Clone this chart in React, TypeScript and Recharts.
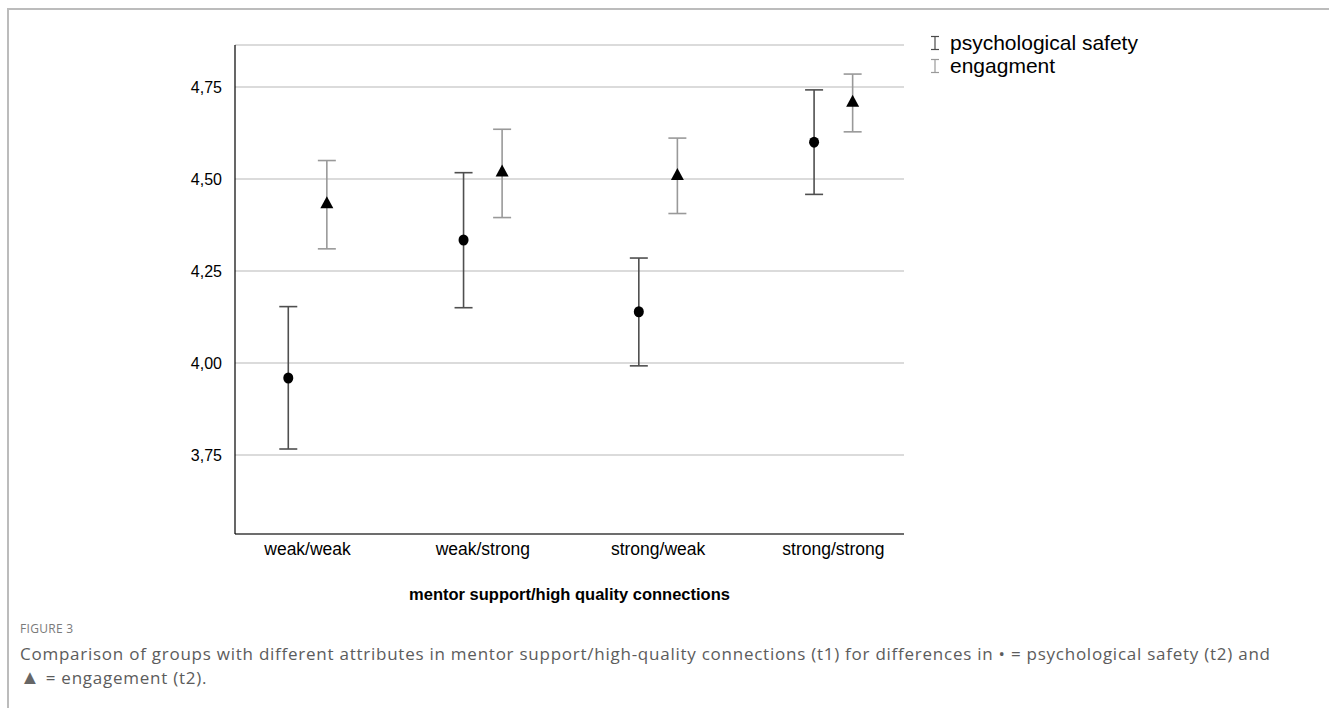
import { ScatterChart, Scatter, XAxis, YAxis, CartesianGrid, ErrorBar } from 'recharts'

const categories = ['weak/weak', 'weak/strong', 'strong/weak', 'strong/strong']

const safetyMean = [3.959, 4.334, 4.139, 4.6]
const safetyLower = [3.766, 4.15, 3.992, 4.458]
const safetyUpper = [4.153, 4.517, 4.285, 4.742]

const engagementMean = [4.434, 4.52, 4.511, 4.71]
const engagementLower = [4.31, 4.395, 4.406, 4.628]
const engagementUpper = [4.55, 4.635, 4.611, 4.785]

const yTicks = [3.75, 4, 4.25, 4.5, 4.75]

// side-by-side dodge within each group
const DODGE = 0.11

const buildRows = (mean: number[], lower: number[], upper: number[], shift: number) =>
  mean.map((m, i) => ({
    x: i + shift,
    y: m,
    err: [m - lower[i], upper[i] - m],
    label: categories[i],
  }))

const safetyRows = buildRows(safetyMean, safetyLower, safetyUpper, -DODGE)
const engagementRows = buildRows(engagementMean, engagementLower, engagementUpper, DODGE)

const FONT = '"Liberation Sans", Arial, sans-serif'

const Dot = (props: any) => {
  const { cx, cy } = props
  return <ellipse cx={cx} cy={cy} rx={5} ry={5.5} fill="#000" />
}

const Tri = (props: any) => {
  const { cx, cy } = props
  return <polygon points={`${cx},${cy - 7} ${cx - 6.5},${cy + 5} ${cx + 6.5},${cy + 5}`} fill="#000" />
}

const legendItems = [
  { label: 'psychological safety', color: '#4a4a4a' },
  { label: 'engagment', color: '#9a9a9a' },
]

const LegendBox = () => (
  <div style={{ fontFamily: FONT, fontSize: 21, color: '#000', lineHeight: '23px' }}>
    {legendItems.map((it) => (
      <div key={it.label} style={{ display: 'flex', alignItems: 'center' }}>
        <svg width={10} height={16} style={{ marginRight: 10 }}>
          <line x1={1} y1={1.5} x2={9} y2={1.5} stroke={it.color} strokeWidth={1.2} />
          <line x1={5} y1={1.5} x2={5} y2={14.5} stroke={it.color} strokeWidth={1.2} />
          <line x1={1} y1={14.5} x2={9} y2={14.5} stroke={it.color} strokeWidth={1.2} />
        </svg>
        <span>{it.label}</span>
      </div>
    ))}
  </div>
)

export default function App() {
  return (
    <div style={{ position: 'absolute', left: 0, top: 0, width: 1329, height: 708, background: '#fff', overflow: 'hidden' }}>
      <div
        style={{
          position: 'absolute',
          left: 7,
          top: 8,
          width: 1400,
          height: 800,
          borderTop: '2px solid #bcbcbc',
          borderLeft: '2px solid #bcbcbc',
        }}
      />
      <div style={{ position: 'absolute', left: 0, top: 0 }}>
        <ScatterChart width={1329} height={708} margin={{ top: 45, right: 425, bottom: 108, left: 175 }}>
          <CartesianGrid vertical={false} stroke="#cfcfcf" strokeWidth={1.5} />
          <XAxis
            type="number"
            dataKey="x"
            domain={[-0.414, 3.403]}
            ticks={[0, 1, 2, 3]}
            tickFormatter={(v: number) => categories[v]}
            allowDataOverflow
            tickLine={false}
            axisLine={{ stroke: '#000', strokeWidth: 1.2 }}
            tick={{ fill: '#000', fontSize: 17.5, fontFamily: FONT }}
            tickMargin={3}
            height={66}
            label={{
              value: 'mentor support/high quality connections',
              position: 'insideBottom',
              offset: 0,
              fill: '#000',
              fontSize: 16.5,
              fontWeight: 'bold',
              fontFamily: FONT,
            }}
          />
          <YAxis
            type="number"
            dataKey="y"
            domain={[3.535, 4.864]}
            ticks={yTicks}
            allowDataOverflow
            tickFormatter={(v: number) => v.toFixed(2).replace('.', ',')}
            tickLine={false}
            axisLine={{ stroke: '#000', strokeWidth: 1.2 }}
            tick={{ fill: '#000', fontSize: 16, fontFamily: FONT }}
            tickMargin={7}
            width={60}
          />
          <Scatter name="psychological safety" data={safetyRows} shape={<Dot />} isAnimationActive={false}>
            <ErrorBar dataKey="err" direction="y" width={9} stroke="#4f4f4f" strokeWidth={1.6} />
          </Scatter>
          <Scatter name="engagment" data={engagementRows} shape={<Tri />} isAnimationActive={false}>
            <ErrorBar dataKey="err" direction="y" width={9} stroke="#999" strokeWidth={1.6} />
          </Scatter>
        </ScatterChart>
      </div>
      <div style={{ position: 'absolute', left: 930, top: 31 }}>
        <LegendBox />
      </div>
      <div
        style={{
          position: 'absolute',
          left: 20,
          top: 620,
          fontFamily: '"Open Sans", "Noto Sans", sans-serif',
          color: '#7a7a7a',
          fontSize: 12,
          letterSpacing: 0.3,
        }}
      >
        FIGURE 3
      </div>
      <div
        style={{
          position: 'absolute',
          left: 20,
          top: 642,
          width: 1300,
          fontFamily: '"Open Sans", "Noto Sans", sans-serif',
          color: '#5c5c5c',
          fontSize: 17,
          letterSpacing: 0.75,
          lineHeight: '24px',
        }}
      >
        Comparison of groups with different attributes in mentor support/high-quality connections (t1) for differences in • = psychological safety (t2) and
        <br />
        <span style={{ fontSize: 20, color: '#666', lineHeight: '20px' }}>▲</span> = engagement (t2).
      </div>
    </div>
  )
}
